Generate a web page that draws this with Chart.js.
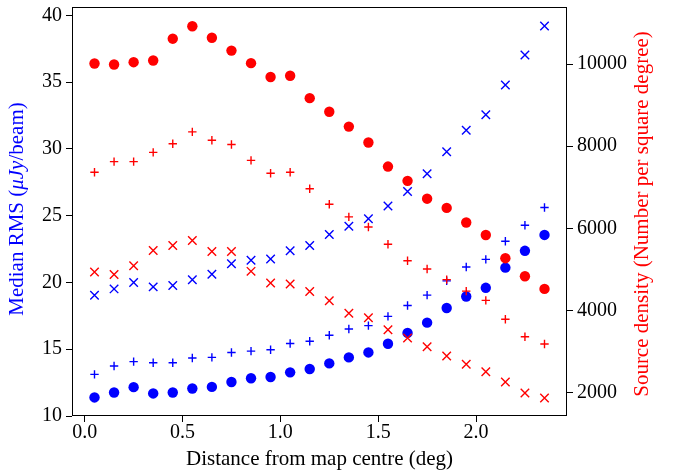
<!DOCTYPE html>
<html lang="en">
<head>
    <meta charset="UTF-8" />
    <title>Median RMS and source density</title>
    <script src="https://cdn.jsdelivr.net/npm/chart.js"></script>
    <style>
        html, body { margin: 0; padding: 0; background: #fff; }
        #wrap { width: 675px; height: 472px; }
    </style>
</head>
<body>
<div id="wrap">
    <canvas id="rmsChart" width="675" height="472"></canvas>
</div>

<script>
// distance bins (deg)
const distance = [0.05, 0.15, 0.25, 0.35, 0.45, 0.55, 0.65, 0.75, 0.85, 0.95, 1.05, 1.15,
                  1.25, 1.35, 1.45, 1.55, 1.65, 1.75, 1.85, 1.95, 2.05, 2.15, 2.25, 2.35];

// median rms, uJy/beam (left axis)
const rmsDot = [11.39, 11.76, 12.16, 11.69, 11.76, 12.06, 12.18, 12.55, 12.83, 12.92, 13.27, 13.52,
                13.94, 14.39, 14.76, 15.41, 16.22, 16.99, 18.09, 18.95, 19.60, 21.11, 22.37, 23.56];
const rmsPlus = [13.12, 13.74, 14.07, 13.99, 13.99, 14.34, 14.39, 14.76, 14.86, 14.96, 15.43, 15.60,
                 16.05, 16.52, 16.77, 17.46, 18.28, 19.05, 20.12, 21.16, 21.73, 23.09, 24.28, 25.62];
const rmsCross = [19.05, 19.52, 19.99, 19.67, 19.77, 20.21, 20.62, 21.40, 21.66, 21.75, 22.37, 22.77,
                  23.59, 24.21, 24.78, 25.72, 26.81, 28.15, 29.79, 31.40, 32.56, 34.79, 37.03, 39.21];

// source density, number per square degree (right axis)
const densDot = [10014, 9990, 10046, 10087, 10618, 10922, 10642, 10328, 10022, 9684, 9715, 9170,
                 8839, 8477, 8090, 7504, 7156, 6722, 6497, 6142, 5838, 5273, 4832, 4525];
const densPlus = [7366, 7625, 7625, 7849, 8059, 8349, 8146, 8042, 7656, 7342, 7366, 6963,
                  6587, 6280, 6031, 5611, 5211, 5008, 4752, 4470, 4245, 3786, 3359, 3183];
const densCross = [4935, 4873, 5090, 5459, 5580, 5701, 5435, 5435, 4952, 4670, 4646, 4462,
                   4235, 3931, 3825, 3528, 3328, 3118, 2893, 2690, 2507, 2256, 1990, 1870];

// tick labels
const xTicks = [0.0, 0.5, 1.0, 1.5, 2.0];
const rmsTicks = [10, 15, 20, 25, 30, 35, 40];
const densTicks = [2000, 4000, 6000, 8000, 10000];

const RED = '#ff0000';
const BLUE = '#0000ff';
const FONT = '"Liberation Serif", "Times New Roman", serif';

function pts(ys) {
    return distance.map((x, i) => ({ x: x, y: ys[i] }));
}

function series(label, ys, axis, color, style) {
    const ds = {
        label: label,
        data: pts(ys),
        yAxisID: axis,
        pointStyle: style,
        backgroundColor: color,
        borderColor: color,
        showLine: false
    };
    if (style === 'circle') {
        ds.pointRadius = 5.2;
        ds.borderWidth = 0;
    } else if (style === 'cross') {
        ds.pointRadius = 4.2;
        ds.borderWidth = 1.4;
    } else {
        ds.pointRadius = 6;
        ds.borderWidth = 1.4;
    }
    ds.pointHoverRadius = ds.pointRadius;
    return ds;
}

function fixedTicks(list) {
    return scale => { scale.ticks = list.map(v => ({ value: v })); };
}

// keep the plot box where we put it: no extra room for half tick labels
function sideAxis(width) {
    return s => { s.width = width; s.paddingTop = 0; s.paddingBottom = 0; };
}

// black box round the plot area, and the two y titles
// (left one has μJy in italics, right one reads bottom to top)
const decorations = {
    id: 'decorations',
    afterDatasetsDraw(chart) {
        const a = chart.chartArea;
        const ctx = chart.ctx;
        ctx.save();
        ctx.strokeStyle = '#000';
        ctx.lineWidth = 1;
        ctx.strokeRect(Math.round(a.left) + 0.5, Math.round(a.top) + 0.5,
                       Math.round(a.right - a.left) - 1, Math.round(a.bottom - a.top) - 1);
        ctx.restore();
    },
    afterDraw(chart) {
        const ctx = chart.ctx;
        const size = 21;
        const plain = size + 'px ' + FONT;
        const italic = 'italic ' + size + 'px ' + FONT;

        const parts = [['Median RMS (', plain], ['μJy', italic], ['/beam)', plain]];
        ctx.save();
        ctx.textBaseline = 'middle';
        ctx.textAlign = 'left';
        let total = 0;
        parts.forEach(p => { ctx.font = p[1]; total += ctx.measureText(p[0]).width; });
        ctx.translate(17, 209);
        ctx.rotate(-Math.PI / 2);
        ctx.fillStyle = BLUE;
        let pos = -total / 2;
        parts.forEach(p => {
            ctx.font = p[1];
            ctx.fillText(p[0], pos, 0);
            pos += ctx.measureText(p[0]).width;
        });
        ctx.restore();

        ctx.save();
        ctx.font = plain;
        ctx.textBaseline = 'middle';
        ctx.textAlign = 'center';
        ctx.fillStyle = RED;
        ctx.translate(642, 214);
        ctx.rotate(-Math.PI / 2);
        ctx.fillText('Source density (Number per square degree)', 0, 0);
        ctx.restore();
    }
};

const tickFont = { family: FONT, size: 20, lineHeight: 1 };
const axisTicks = { drawOnChartArea: false, tickLength: 6, color: '#000', tickColor: '#000' };

new Chart(document.getElementById('rmsChart'), {
    type: 'scatter',
    data: {
        datasets: [
            series('Density (dot)', densDot, 'yDens', RED, 'circle'),
            series('Density (plus)', densPlus, 'yDens', RED, 'cross'),
            series('Density (cross)', densCross, 'yDens', RED, 'crossRot'),
            series('RMS (dot)', rmsDot, 'yRms', BLUE, 'circle'),
            series('RMS (plus)', rmsPlus, 'yRms', BLUE, 'cross'),
            series('RMS (cross)', rmsCross, 'yRms', BLUE, 'crossRot')
        ]
    },
    options: {
        responsive: false,
        devicePixelRatio: 1,
        animation: false,
        layout: { padding: { top: 4, left: 0, right: 0, bottom: 0 } },
        plugins: {
            legend: { display: false },
            tooltip: { enabled: false }
        },
        scales: {
            x: {
                type: 'linear',
                position: 'bottom',
                min: -0.065,
                max: 2.465,
                afterBuildTicks: fixedTicks(xTicks),
                afterFit: s => { s.height = 56; s.paddingLeft = 0; s.paddingRight = 0; },
                border: { display: false },
                grid: axisTicks,
                ticks: {
                    color: '#000',
                    font: tickFont,
                    padding: 1,
                    maxRotation: 0,
                    callback: v => v.toFixed(1)
                },
                title: {
                    display: true,
                    text: 'Distance from map centre (deg)',
                    color: '#000',
                    font: { family: FONT, size: 21, lineHeight: 1.2 },
                    padding: { top: 0, bottom: 0 }
                }
            },
            yRms: {
                type: 'linear',
                position: 'left',
                min: 10,
                max: 40.6,
                afterBuildTicks: fixedTicks(rmsTicks),
                afterFit: sideAxis(72),
                border: { display: false },
                grid: axisTicks,
                ticks: { color: '#000', font: tickFont, padding: 4 }
            },
            yDens: {
                type: 'linear',
                position: 'right',
                min: 1430,
                max: 11380,
                afterBuildTicks: fixedTicks(densTicks),
                afterFit: sideAxis(108),
                border: { display: false },
                grid: axisTicks,
                ticks: { color: '#000', font: tickFont, padding: 4, callback: v => String(v) }
            }
        }
    },
    plugins: [decorations]
});
</script>
</body>
</html>
